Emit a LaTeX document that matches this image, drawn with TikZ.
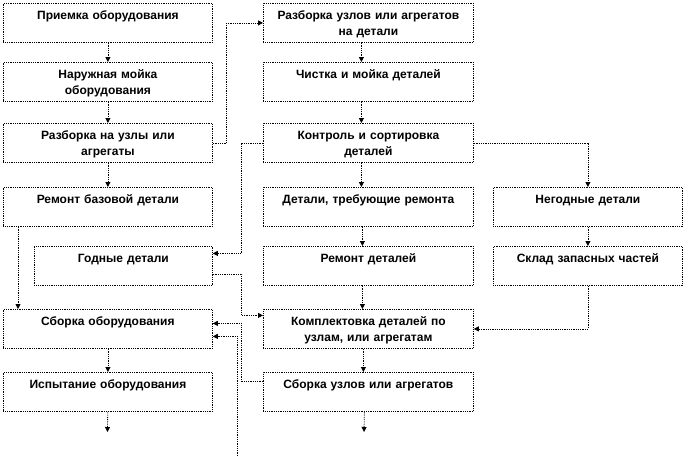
\documentclass[tikz,border=0pt]{standalone}
\usepackage{fontspec}
\setmainfont{Liberation Sans}
\usetikzlibrary{arrows.meta}

\newcommand{\btext}[1]{\vbox to 39pt{\centering\rule{0pt}{16.5pt}#1\par\vfil}}

\begin{document}
\begin{tikzpicture}[x=1pt, y=-1pt,
	blok/.style={draw, densely dotted, line width=0.8pt, anchor=north west, inner xsep=0pt, inner ysep=0pt, text width=#1, align=center, minimum height=39pt, font=\bfseries\fontsize{12}{16}\selectfont},
	line/.style={densely dotted, line width=0.8pt, -{Triangle[length=5pt,width=5pt]}}]
		\useasboundingbox (0,0) rectangle (685,456);

		% left column
		\node[blok=209pt] (priemka) at (3,3) {\btext{Приемка оборудования}};
		\node[blok=209pt] (naruzh) at (3,62) {\btext{Наружная мойка\\оборудования}};
		\node[blok=209pt] (razb) at (3,123) {\btext{Разборка на узлы или\\агрегаты}};
		\node[blok=209pt] (remb) at (3,187) {\btext{Ремонт базовой детали}};
		\node[blok=178pt] (godn) at (34,246) {\btext{Годные детали}};
		\node[blok=209pt] (sborka) at (3,309) {\btext{Сборка оборудования}};
		\node[blok=209pt] (ispyt) at (3,372) {\btext{Испытание оборудования}};

		% right column
		\node[blok=210pt] (razbuz) at (263,3) {\btext{Разборка узлов или агрегатов\\на детали}};
		\node[blok=210pt] (chist) at (263,62) {\btext{Чистка и мойка деталей}};
		\node[blok=210pt] (kontr) at (263,123) {\btext{Контроль и сортировка\\деталей}};
		\node[blok=210pt] (detreb) at (263,187) {\btext{Детали, требующие ремонта}};
		\node[blok=210pt] (remdet) at (263,246) {\btext{Ремонт деталей}};
		\node[blok=210pt] (kompl) at (263,309) {\btext{Комплектовка деталей по\\узлам, или агрегатам}};
		\node[blok=210pt] (sbuz) at (263,372) {\btext{Сборка узлов или агрегатов}};

		\node[blok=189pt] (negod) at (493,187) {\btext{Негодные детали}};
		\node[blok=189pt] (sklad) at (493,246) {\btext{Склад запасных частей}};

		\coordinate (vhod) at (237,456);
		\coordinate (ispytout) at (107.5,432);
		\coordinate (sbuzout) at (364,432);

		\draw[line] (priemka) to (naruzh);
		\draw[line] (naruzh) to (razb);
		\draw[line] (razb) to (remb);
		\draw[line] (razb.east) -- ++(14,0) |- (razbuz.west);
		\draw[line] ([xshift=-7pt]razbuz.south) to ([xshift=-7pt]chist.north);
		\draw[line] ([xshift=-7pt]chist.south) to ([xshift=-7pt]kontr.north);
		\draw[line] ([xshift=-7pt]kontr.south) to ([xshift=-7pt]detreb.north);
		\draw[line] ([xshift=-6pt]detreb.south) to ([xshift=-6pt]remdet.north);
		\draw[line] ([xshift=-6pt]remdet.south) to ([xshift=-6pt]kompl.north);
		\draw[line] ([xshift=-5pt]kompl.south) to ([xshift=-5pt]sbuz.north);
		\draw[line] ([xshift=-4pt]sbuz.south) to (sbuzout);
		\draw[line] (kontr.east) -| (negod.north);
		\draw[line] (kontr.west) -- ++(-22,0) |- ([yshift=12.5pt]godn.east);
		\draw[line] (negod) to (sklad);
		\draw[line] (sklad.south) |- (kompl.east);
		\draw[line] ([xshift=15pt]remb.south west) to ([xshift=15pt]sborka.north west);
		\draw[line] ([yshift=-8.5pt]godn.east) -- ++(29,0) |- ([yshift=13.5pt]kompl.west);
		\draw[line] ([yshift=10.5pt]sbuz.west) -- ++(-22,0) |- ([yshift=5.5pt]sborka.east);
		\draw[line] (vhod) |- ([yshift=-7.5pt]sborka.east);
		\draw[line] (sborka) to (ispyt);
		\draw[line] (ispyt) to (ispytout);
	\end{tikzpicture}
\end{document}
